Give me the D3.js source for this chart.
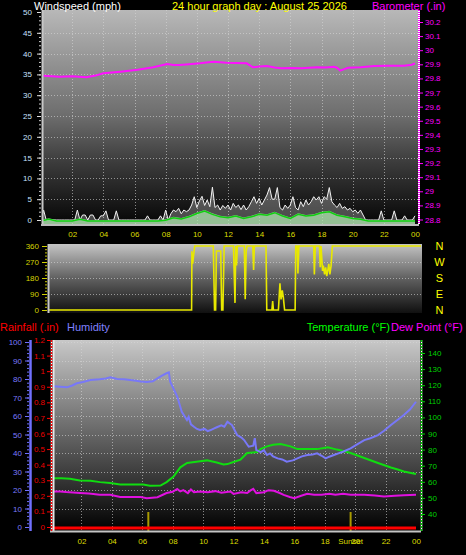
<!DOCTYPE html>
<html><head><meta charset="utf-8">
<script src="https://cdn.jsdelivr.net/npm/d3@7"></script>
<style>
html,body{margin:0;padding:0;background:#000;}
svg{display:block;}
</style></head><body>
<svg id="c" width="466" height="555"></svg>
<script>
// ---------------- DATA ----------------
const titleText = "24 hour graph day : August 25 2026";
const hourTicks = [2,4,6,8,10,12,14,16,18,20,22,24];
const hourLabels = ["02","04","06","08","10","12","14","16","18","20","22","00"];

// wind gust (mph), every 10 minutes from 00:00 to 24:00
const windGust = [
0,2.4,0,0,0,0,0,0,0,0,0,0,0,0,
2.4,0,1.2,1.2,0,1.2,1.2,0,0,1,1,2.2,0,0,0,2.2,
0,0,0,0,0,0,0,0,0,0,0,
1,0,0,0,0,1,0,
2.4,0,1.5,2.4,2,2.8,1.5,2.4,2,2.4,3.6,5.6,
3,4.6,5.7,3.5,4.8,3.2,7.9,3,3.6,2.4,3.5,2.8,
3.6,2.4,4,3,3.6,2.5,3.6,2.4,3.2,4.4,5.6,4,
5.2,3.6,4.8,6,7.8,5,5,7.8,3,2.4,3.6,2.8,
3.6,5.6,3,2.4,4.4,3.2,4.8,3.6,4.4,5.6,4.8,5.6,
4,5.6,5,7.8,4.4,3.6,3,4,2.8,3.2,2.4,2.8,
2,2.4,1.6,2.4,1.2,0,0,0,0,0,0,2.2,
0,0,0,0,2.2,0,0,0,1,0,0,0,1
];
// average wind (mph), every 30 minutes
const windAvg = [
0,0.4,0,0,0,0.4,0,0,0,0,0,0,0,0,0,0,
0.2,0.8,0.5,1,1.8,2.4,1.6,1,0.8,1.2,0.6,1,1.6,1.4,2,1.2,
0.6,1.6,1.2,1.4,2,2.2,1.4,1,0.6,0.4,0,0,0,0,0,0,0
];
// barometer [hour, inHg]
const barometer = [[0.15,29.819],[1.2,29.812],[2.0,29.815],[2.9,29.808],[3.5,29.82],[4.0,29.836],[5.1,29.848],[6.2,29.862],[7.2,29.879],[8.1,29.902],[8.5,29.896],[8.9,29.895],[9.5,29.9],[10.2,29.907],[10.6,29.913],[11.1,29.918],[11.9,29.911],[12.5,29.909],[13.2,29.907],[13.6,29.879],[14.0,29.884],[14.5,29.888],[15.0,29.878],[15.4,29.872],[16.0,29.874],[16.7,29.872],[17.2,29.876],[17.7,29.879],[18.3,29.877],[18.8,29.883],[19.0,29.876],[19.2,29.855],[19.5,29.868],[19.7,29.876],[20.5,29.879],[21.4,29.888],[22.2,29.89],[23.3,29.89],[23.8,29.897],[24,29.907]];
// wind direction [hour, degrees]
const windDir = [[0,0],[9.2,0],[9.22,330],[9.27,260],[9.32,300],[9.4,360],[10.6,360],[10.68,0],[10.75,0],[10.8,332],[11.08,332],[11.14,0],[11.22,0],[11.3,360],[11.9,360],[12.0,40],[12.05,360],[12.1,250],[12.15,360],[12.6,360],[12.66,60],[12.72,330],[12.78,360],[13.15,360],[13.2,225],[13.25,360],[14.0,360],[14.05,0],[14.38,0],[14.43,50],[14.48,0],[14.8,0],[14.9,150],[14.97,60],[15.05,110],[15.12,70],[15.2,0],[15.88,0],[15.92,360],[16.02,360],[16.06,205],[16.12,360],[17.08,360],[17.12,200],[17.18,360],[17.45,360],[17.5,240],[17.55,360],[17.65,220],[17.7,250],[17.78,200],[17.85,240],[17.92,190],[18.0,230],[18.05,260],[18.12,200],[18.2,250],[18.28,360],[24,360]];
// humidity [hour, %]
const humidity = [[0,76.2],[0.6,75.8],[1.05,75.5],[1.4,76.5],[1.7,77.7],[2.1,78.4],[2.6,79.5],[3.2,79.9],[3.6,80.3],[3.9,80.9],[4.35,80],[4.8,79.8],[5.2,79.4],[5.6,79.0],[5.9,78.6],[6.3,78.4],[6.7,78.8],[7.0,80.4],[7.3,81.8],[7.6,83.1],[7.75,83.6],[7.84,78.5],[8.1,74],[8.3,70.5],[8.6,62.3],[8.94,57.8],[9.05,59.5],[9.2,55.5],[9.4,54.2],[9.6,53],[9.8,52.4],[10.1,53],[10.3,51.8],[10.5,52.4],[10.7,53.2],[10.9,53.9],[11.2,55],[11.4,54.2],[11.6,56.9],[11.9,55.1],[12.24,49.7],[12.5,48.5],[12.7,47],[13.0,43.4],[13.3,44],[13.4,48],[13.5,41.6],[13.8,40.5],[14.0,41.5],[14.2,38.9],[14.4,39.8],[14.6,38.2],[14.9,37.1],[15.2,36.5],[15.5,35.3],[15.9,36],[16.2,37.1],[16.5,38.2],[16.86,38.9],[17.2,39.2],[17.5,39.8],[17.8,38.5],[18.06,37.1],[18.3,38],[18.6,38.9],[18.9,39.8],[19.2,40.7],[19.7,42.5],[20.1,44.5],[20.6,47],[21.0,48],[21.5,49.7],[21.9,52],[22.35,55.1],[22.8,58],[23.2,60.5],[23.6,63.5],[24,67.7]];
// temperature [hour, °F]
const temperature = [[0,62.3],[0.7,62.2],[1.25,61.9],[1.9,60.8],[2.6,60.6],[3.23,59.8],[3.9,59.2],[4.55,58.3],[5.4,58.3],[6.06,58.3],[6.5,57.5],[7.2,57.7],[7.6,59.8],[8.06,63.3],[8.5,69],[8.95,71.7],[9.8,72.7],[10.26,73.3],[10.9,72],[11.35,70.8],[11.6,71],[12.0,72.3],[12.46,73.8],[12.9,77.9],[13.56,78.5],[13.8,80.5],[14.2,82],[14.6,83],[15.1,83.5],[15.75,82],[16.2,80.3],[16.85,80.4],[17.5,80.3],[17.95,81],[18.2,81.4],[18.8,80],[19.3,79],[19.7,77.9],[20.6,74.8],[21.5,71.7],[22.35,68.9],[22.8,67.6],[23.2,66.4],[24,64.8]];
// dew point [hour, °F]
const dewPoint = [[0,54],[0.6,54],[1.0,53.6],[1.9,53],[2.5,52.7],[3.2,51.9],[3.9,51.9],[4.55,50.6],[5.9,50.6],[6.3,49.8],[7.0,50.4],[7.6,53],[8.0,53.8],[8.3,55.6],[8.5,54],[8.7,54.8],[9.0,53],[9.2,55.2],[9.4,53.5],[9.8,54],[10.3,53.5],[10.8,54.2],[11.2,53.2],[11.8,54],[12.0,52.5],[12.5,53.5],[12.9,53],[13.1,54.5],[13.3,55.6],[13.5,53],[14,53.5],[14.3,54.8],[14.65,54.4],[15.0,53.2],[15.3,51.9],[15.7,50.6],[16,49.8],[16.4,51.2],[16.85,52.5],[17.3,52],[17.8,51.9],[18.3,52.6],[18.7,51.9],[19.2,52.5],[19.7,52],[20.6,51.9],[21.3,51.5],[21.9,50.8],[22.6,51.3],[23.2,51.7],[24,51.9]];
// rainfall [hour, in]
const rainfall = [[0,0],[24,0]];
// sun events
const sunEventHours = [6.4, 19.7];
const sunEventLabels = ["", "Sunset"];

// ---------------- LAYOUT ----------------
const FONT = "'Liberation Sans', Arial, sans-serif";
const svg = d3.select("#c");
const defs = svg.append("defs");
function vgrad(id, stops){
  const g = defs.append("linearGradient").attr("id",id).attr("x1",0).attr("y1",0).attr("x2",0).attr("y2",1);
  stops.forEach(([o,c])=>g.append("stop").attr("offset",o).attr("stop-color",c));
}
function clip(id,p){
  defs.append("clipPath").attr("id",id).append("rect")
    .attr("x",p.l).attr("y",p.t).attr("width",p.r-p.l).attr("height",p.b-p.t);
}
vgrad("g1",[[0,"#b8b8b8"],[0.5,"#6c6c6c"],[0.72,"#3a3a3a"],[1,"#060606"]]);
vgrad("g2",[[0,"#c4c4c4"],[0.5,"#606060"],[1,"#101010"]]);
vgrad("g3",[[0,"#c8c8c8"],[1,"#000000"]]);

const P1 = {l:42, r:418, t:10, b:224};
const P2 = {l:48, r:422, t:244, b:313};
const P3 = {l:53, r:420, t:340, b:531};
clip("c1",P1); clip("c2",P2); clip("c3",P3);

const xTop = d3.scaleLinear([0,24],[41,415]);
const yWind = d3.scaleLinear([0,50],[220,12]);
const yBaro = d3.scaleLinear([28.8,30.2],[219.5,22]);
const xDir = d3.scaleLinear([0,24],[49,421]);
const yDir = d3.scaleLinear([0,360],[310,246]);
const xBot = d3.scaleLinear([0,24],[51,416]);
const yHum = d3.scaleLinear([0,100],[527,342]);
const yRain = d3.scaleLinear([0,1.2],[527,340]);
const yTemp = d3.scaleLinear([40,140],[514,353]);

function panelBg(p, g){
  svg.append("rect").attr("x",p.l).attr("y",p.t).attr("width",p.r-p.l).attr("height",p.b-p.t).attr("fill",`url(#${g})`);
}
function hgrid(p, ys){
  svg.append("g").selectAll("line").data(ys).join("line")
    .attr("x1",p.l).attr("x2",p.r).attr("y1",d=>Math.round(d)+0.5).attr("y2",d=>Math.round(d)+0.5)
    .attr("stroke","rgba(215,215,215,0.6)").attr("stroke-dasharray","1,2");
}
function vgrid(p, xs){
  svg.append("g").selectAll("line").data(xs).join("line")
    .attr("y1",p.t).attr("y2",p.b).attr("x1",d=>Math.round(d)+0.5).attr("x2",d=>Math.round(d)+0.5)
    .attr("stroke","rgba(215,215,215,0.6)").attr("stroke-dasharray","1,2");
}
function styleAxis(g, lineColor, textColor, size){
  g.attr("font-family",FONT).attr("font-size",size||8);
  g.select(".domain").remove();
  g.selectAll("line").attr("stroke",lineColor);
  g.selectAll("text").attr("fill",textColor);
}
function txt(x,y,s,color,size,anchor){
  return svg.append("text").attr("x",x).attr("y",y).text(s).attr("fill",color)
    .attr("font-family",FONT).attr("font-size",size).attr("text-anchor",anchor||"start");
}
const fmt1 = d => String(+d.toFixed(1));

// ---------------- PANEL 1: wind + barometer ----------------
panelBg(P1,"g1");
hgrid(P1, d3.range(5,50,5).map(yWind));
vgrid(P1, hourTicks.slice(0,-1).map(xTop));
const c1 = svg.append("g").attr("clip-path","url(#c1)");
const gustPts = windGust.map((v,i)=>[i/6,v]);
const avgPts = windAvg.map((v,i)=>[i/2,v]);
c1.append("path").datum(gustPts)
  .attr("d", d3.area().x(d=>xTop(d[0])).y0(P1.b).y1(d=>yWind(d[1])))
  .attr("fill","rgba(225,225,225,0.3)");
c1.append("path").datum(gustPts)
  .attr("d", d3.line().x(d=>xTop(d[0])).y(d=>yWind(d[1])))
  .attr("fill","none").attr("stroke","#f2f2f2").attr("stroke-width",1);
c1.append("path").datum(avgPts)
  .attr("d", d3.area().x(d=>xTop(d[0])).y0(P1.b).y1(d=>yWind(d[1])))
  .attr("fill","rgba(175,232,175,0.75)");
c1.append("path").datum(avgPts)
  .attr("d", d3.line().x(d=>xTop(d[0])).y(d=>yWind(d[1])+1))
  .attr("fill","none").attr("stroke","#10d010").attr("stroke-width",1.5);
c1.append("path").datum(barometer)
  .attr("d", d3.line().x(d=>xTop(d[0])).y(d=>yBaro(d[1])))
  .attr("fill","none").attr("stroke","#ff10ff").attr("stroke-width",2);
// borders
svg.append("line").attr("x1",42.5).attr("x2",42.5).attr("y1",P1.t).attr("y2",P1.b+2).attr("stroke","#c8c8c8").attr("stroke-width",2);
svg.append("line").attr("x1",41).attr("x2",419).attr("y1",225).attr("y2",225).attr("stroke","#bcbcbc").attr("stroke-width",2);
// wind axis
styleAxis(svg.append("g").attr("transform","translate(41,0)")
  .call(d3.axisLeft(yWind).tickValues(d3.range(0,51,1)).tickSize(2).tickFormat("")), "#d0d0d0","#d0d0d0");
styleAxis(svg.append("g").attr("transform","translate(41,0)")
  .call(d3.axisLeft(yWind).tickValues(d3.range(0,51,5)).tickSize(4).tickPadding(5)), "#e0e0e0","#c8e0ff");
// baro axis
svg.append("line").attr("x1",419).attr("x2",419).attr("y1",P1.t).attr("y2",P1.b).attr("stroke","#ffffff").attr("stroke-width",2);
svg.append("line").attr("x1",419).attr("x2",419).attr("y1",P1.t).attr("y2",P1.b).attr("stroke","#ff00ff").attr("stroke-width",2).attr("stroke-dasharray","1,1");
styleAxis(svg.append("g").attr("transform","translate(420,0)")
  .call(d3.axisRight(yBaro).tickValues(d3.range(28.8,30.25,0.1)).tickSize(3).tickPadding(2).tickFormat(fmt1)), "#ff00ff","#ff00ff");
// x labels
styleAxis(svg.append("g").attr("transform","translate(0,226)")
  .call(d3.axisBottom(xTop).tickValues(hourTicks).tickSize(0).tickPadding(5).tickFormat((d,i)=>hourLabels[i])), "#dddd00","#dddd00");
// titles
txt(34,10,"Windspeed (mph)","#ffffff",11);
txt(172,10,titleText,"#ffff00",11);
txt(372,10,"Barometer (.in)","#ff00ff",11);

// ---------------- PANEL 2: wind direction ----------------
panelBg(P2,"g2");
hgrid(P2, [90,180,270].map(yDir));
const c2 = svg.append("g").attr("clip-path","url(#c2)");
c2.append("path").datum(windDir)
  .attr("d", d3.line().x(d=>xDir(d[0])).y(d=>yDir(d[1])))
  .attr("fill","none").attr("stroke","#e8e800").attr("stroke-width",1.6);
svg.append("line").attr("x1",48.5).attr("x2",48.5).attr("y1",P2.t).attr("y2",P2.b).attr("stroke","#c8c8c8").attr("stroke-width",2);
styleAxis(svg.append("g").attr("transform","translate(47,0)")
  .call(d3.axisLeft(yDir).tickValues(d3.range(0,361,18)).tickSize(2).tickFormat("")), "#c8c800","#c8c800");
styleAxis(svg.append("g").attr("transform","translate(47,0)")
  .call(d3.axisLeft(yDir).tickValues([0,90,180,270,360]).tickSize(5).tickPadding(3)), "#d0d000","#d4d400");
const compass = ["N","E","S","W","N"];
[0,90,180,270,360].forEach((v,i)=>txt(439.5, yDir(v)+4, compass[i], "#ffff00", 11, "middle"));

// ---------------- PANEL 3: rain, humidity, temp, dew ----------------
panelBg(P3,"g3");
hgrid(P3, d3.range(10,101,10).map(yHum));
vgrid(P3, hourTicks.slice(0,-1).map(xBot));
const c3 = svg.append("g").attr("clip-path","url(#c3)");
c3.selectAll("line.sun").data(sunEventHours).join("line")
  .attr("x1",d=>xBot(d)).attr("x2",d=>xBot(d)).attr("y1",512).attr("y2",P3.b)
  .attr("stroke","#a89a00").attr("stroke-width",2);
c3.append("path").datum(dewPoint)
  .attr("d", d3.line().x(d=>xBot(d[0])).y(d=>yTemp(d[1])))
  .attr("fill","none").attr("stroke","#e010e0").attr("stroke-width",2);
c3.append("path").datum(temperature)
  .attr("d", d3.line().x(d=>xBot(d[0])).y(d=>yTemp(d[1])))
  .attr("fill","none").attr("stroke","#10dd10").attr("stroke-width",2);
c3.append("path").datum(humidity)
  .attr("d", d3.line().x(d=>xBot(d[0])).y(d=>yHum(d[1])))
  .attr("fill","none").attr("stroke","#7878f8").attr("stroke-width",2);
svg.append("path").datum(rainfall)
  .attr("d", d3.line().x(d=>xBot(d[0])).y(d=>yRain(d[1])+1))
  .attr("fill","none").attr("stroke","#ff0000").attr("stroke-width",3);
// borders
svg.append("line").attr("x1",53.5).attr("x2",53.5).attr("y1",P3.t).attr("y2",P3.b).attr("stroke","#e8e8e8").attr("stroke-width",2);
svg.append("line").attr("x1",50).attr("x2",421).attr("y1",531.5).attr("y2",531.5).attr("stroke","#c4c4c4").attr("stroke-width",2);
// humidity axis
svg.append("line").attr("x1",30.5).attr("x2",30.5).attr("y1",P3.t).attr("y2",P3.b).attr("stroke","#7070ff").attr("stroke-width",2.5);
styleAxis(svg.append("g").attr("transform","translate(29,0)")
  .call(d3.axisLeft(yHum).tickValues(d3.range(0,101,2)).tickSize(2).tickFormat("")), "#7070ff","#7070ff");
styleAxis(svg.append("g").attr("transform","translate(29,0)")
  .call(d3.axisLeft(yHum).tickValues(d3.range(0,101,10)).tickSize(4).tickPadding(3)), "#7070ff","#7b7bff");
// rain axis
svg.append("line").attr("x1",51.5).attr("x2",51.5).attr("y1",P3.t).attr("y2",P3.b).attr("stroke","#ffffff").attr("stroke-width",1.5);
svg.append("line").attr("x1",51.5).attr("x2",51.5).attr("y1",P3.t).attr("y2",P3.b).attr("stroke","#ff0000").attr("stroke-width",1.5).attr("stroke-dasharray","2,1");
styleAxis(svg.append("g").attr("transform","translate(50,0)")
  .call(d3.axisLeft(yRain).tickValues(d3.range(0,1.21,0.1)).tickSize(3).tickPadding(2).tickFormat(fmt1)), "#ff0000","#ee0000");
// temp axis
svg.append("line").attr("x1",421.5).attr("x2",421.5).attr("y1",P3.t).attr("y2",P3.b).attr("stroke","#ffffff").attr("stroke-width",1.5);
svg.append("line").attr("x1",421.5).attr("x2",421.5).attr("y1",P3.t).attr("y2",P3.b).attr("stroke","#00cc00").attr("stroke-width",1.5).attr("stroke-dasharray","2,1");
styleAxis(svg.append("g").attr("transform","translate(422,0)")
  .call(d3.axisRight(yTemp).tickValues(d3.range(40,141,10)).tickSize(3).tickPadding(3)), "#00cc00","#00d000");
// x labels
styleAxis(svg.append("g").attr("transform","translate(0,533)")
  .call(d3.axisBottom(xBot).tickValues(hourTicks).tickSize(0).tickPadding(5).tickFormat((d,i)=>hourLabels[i])), "#dddd00","#dddd00");
sunEventHours.forEach((h,i)=>{ if(sunEventLabels[i]) txt(xBot(h), 543.7, sunEventLabels[i], "#dddd00", 8, "middle"); });
// legend
txt(0,331,"Rainfall (.in)","#ff0000",11);
txt(67,331,"Humidity","#8080ff",11);
txt(390,331,"Temperature (°F)","#00ff00",11,"end");
txt(391,331,"Dew Point (°F)","#ff00ff",11);
</script>
</body></html>
